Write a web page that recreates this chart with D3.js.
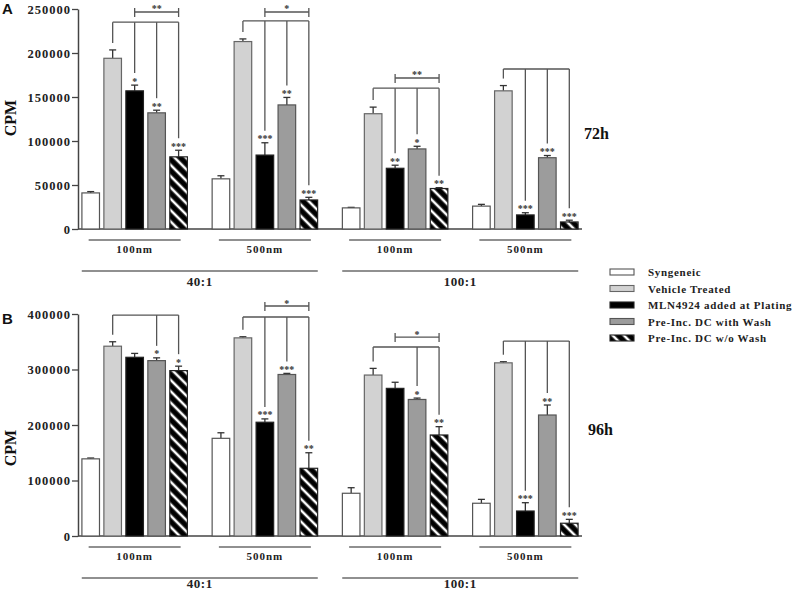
<!DOCTYPE html>
<html>
<head>
<meta charset="utf-8">
<script src="https://cdn.jsdelivr.net/npm/d3@7"></script>
<style>
  html, body { margin: 0; padding: 0; background: #fff; }
  svg { display: block; }
  .serif { font-family: "Liberation Serif", "Times New Roman", serif; font-weight: bold; }
</style>
</head>
<body>
<svg id="chart" width="793" height="593"></svg>
<script>
// ---------------- DATA ----------------
const ratios = ["40:1", "100:1"];
const doses = ["100nm", "500nm"];
const groups = ["40:1|100nm", "40:1|500nm", "100:1|100nm", "100:1|500nm"];
const series = ["Syngeneic", "Vehicle Treated", "MLN4924 added at Plating", "Pre-Inc. DC with Wash", "Pre-Inc. DC w/o Wash"];

const ticksA = [0, 50000, 100000, 150000, 200000, 250000];
const ticksB = [0, 100000, 200000, 300000, 400000];

// Panel A (72h)
const syn72 = [41000, 57000, 24000, 26000];
const syn72Err = [1500, 3500, 600, 2000];
const veh72 = [194000, 213000, 131000, 157000];
const veh72Err = [9500, 3000, 7500, 6000];
const mln72 = [157000, 84000, 69000, 16000];
const mln72Err = [6500, 14000, 3500, 2500];
const wash72 = [132000, 141000, 91000, 81000];
const wash72Err = [3000, 8500, 3000, 2500];
const nowash72 = [82000, 33000, 46000, 8000];
const nowash72Err = [7500, 3000, 1000, 2000];

// Panel B (96h)
const syn96 = [139000, 176000, 77000, 59000];
const syn96Err = [1500, 10000, 10000, 7000];
const veh96 = [342000, 357000, 290000, 312000];
const veh96Err = [8000, 2000, 12000, 2000];
const mln96 = [322000, 205000, 266000, 45000];
const mln96Err = [7000, 6000, 11000, 15000];
const wash96 = [316000, 291000, 246000, 218000];
const wash96Err = [5000, 2000, 2500, 18000];
const nowash96 = [298000, 122000, 182000, 23000];
const nowash96Err = [8000, 28000, 15000, 7000];

// significance brackets: level in CPM units, marks = [series index, label]
const sigA = [
  { g: 0, level: 235000, marks: [[2, "*"], [3, "**"], [4, "***"]] },
  { g: 1, level: 236400, marks: [[2, "***"], [3, "**"], [4, "***"]] },
  { g: 2, level: 160000, marks: [[2, "**"], [3, "*"], [4, "**"]] },
  { g: 3, level: 181800, marks: [[2, "***"], [3, "***"], [4, "***"]] }
];
const upperA = [
  { g: 0, from: 2, to: 4, level: 246600, label: "**" },
  { g: 1, from: 2, to: 4, level: 246600, label: "*" },
  { g: 2, from: 2, to: 4, level: 171600, label: "**" }
];
const sigB = [
  { g: 0, level: 398000, marks: [[3, "*"], [4, "*"]] },
  { g: 1, level: 394600, marks: [[2, "***"], [3, "***"], [4, "**"]] },
  { g: 2, level: 340500, marks: [[3, "*"], [4, "**"]] },
  { g: 3, level: 351300, marks: [[2, "***"], [3, "**"], [4, "***"]] }
];
const upperB = [
  { g: 1, from: 2, to: 4, level: 414400, label: "*" },
  { g: 2, from: 2, to: 4, level: 358500, label: "*" }
];

// ---------------- DRAW ----------------
const svg = d3.select("#chart");
const fills = ["#ffffff", "#d2d2d2", "#000000", "#9c9c9c", "url(#hatch)"];
const strokes = ["#555", "#666", "#222", "#555", "#222"];

const defs = svg.append("defs");
const pat = defs.append("pattern").attr("id", "hatch")
  .attr("patternUnits", "userSpaceOnUse").attr("width", 8).attr("height", 8)
  .attr("patternTransform", "rotate(-45)");
pat.append("rect").attr("width", 8).attr("height", 8).attr("fill", "#000");
pat.append("line").attr("x1", 4).attr("x2", 4).attr("y1", 0).attr("y2", 8)
  .attr("stroke", "#fff").attr("stroke-width", 2.6);

const x0 = d3.scaleBand().domain(groups).range([78, 582]).paddingInner(0.19).paddingOuter(0.03);
const x1 = d3.scaleBand().domain(d3.range(series.length)).range([0, x0.bandwidth()]).paddingInner(0.2).paddingOuter(0);

function panel(cfg) {
  const y = d3.scaleLinear().domain(cfg.domain).range(cfg.range);
  const g = svg.append("g");
  const vals = cfg.values, errs = cfg.errors;

  // axis
  const ax = g.append("g").attr("transform", "translate(78,0)")
    .call(d3.axisLeft(y).tickValues(cfg.ticks).tickSize(6).tickSizeOuter(0).tickPadding(1).tickFormat(d3.format("d")));
  ax.select(".domain").attr("stroke", "#444").attr("stroke-width", 1.5);
  ax.selectAll(".tick line").attr("stroke", "#444").attr("stroke-width", 1.3);
  ax.selectAll(".tick text").attr("class", "serif").attr("font-size", 12.5)
    .attr("letter-spacing", "1px").attr("fill", "#222");
  g.append("line").attr("x1", 78).attr("x2", 582).attr("y1", y(0)).attr("y2", y(0))
    .attr("stroke", "#444").attr("stroke-width", 1.5);

  // bars
  const cx = (gi, si) => x0(groups[gi]) + x1(si) + x1.bandwidth() / 2;
  const errTop = (gi, si) => y(vals[si][gi] + errs[si][gi]);
  series.forEach((s, si) => {
    const bg = g.append("g");
    bg.selectAll("line.err").data(groups).join("line")
      .attr("x1", (d, gi) => cx(gi, si)).attr("x2", (d, gi) => cx(gi, si))
      .attr("y1", (d, gi) => y(vals[si][gi])).attr("y2", (d, gi) => errTop(gi, si))
      .attr("stroke", "#333").attr("stroke-width", 1.3);
    bg.selectAll("line.cap").data(groups).join("line")
      .attr("x1", (d, gi) => cx(gi, si) - 3.5).attr("x2", (d, gi) => cx(gi, si) + 3.5)
      .attr("y1", (d, gi) => errTop(gi, si)).attr("y2", (d, gi) => errTop(gi, si))
      .attr("stroke", "#333").attr("stroke-width", 1.3);
    bg.selectAll("rect").data(groups).join("rect")
      .attr("x", (d, gi) => x0(d) + x1(si)).attr("width", x1.bandwidth())
      .attr("y", (d, gi) => y(vals[si][gi])).attr("height", (d, gi) => y(0) - y(vals[si][gi]))
      .attr("fill", fills[si]).attr("stroke", strokes[si]).attr("stroke-width", 1.2);
  });

  // significance
  const lc = "#555", lw = 1.3;
  cfg.sig.forEach(sg => {
    const gi = sg.g, ly = y(sg.level);
    const last = sg.marks[sg.marks.length - 1][0];
    g.append("line").attr("x1", cx(gi, 1)).attr("x2", cx(gi, last)).attr("y1", ly).attr("y2", ly)
      .attr("stroke", lc).attr("stroke-width", lw);
    g.append("line").attr("x1", cx(gi, 1)).attr("x2", cx(gi, 1)).attr("y1", ly).attr("y2", errTop(gi, 1) - 7)
      .attr("stroke", lc).attr("stroke-width", lw);
    sg.marks.forEach(([si, lab]) => {
      const et = errTop(gi, si);
      g.append("line").attr("x1", cx(gi, si)).attr("x2", cx(gi, si)).attr("y1", ly).attr("y2", et - 12)
        .attr("stroke", lc).attr("stroke-width", lw);
      g.append("text").attr("class", "serif").attr("font-size", 10).attr("text-anchor", "middle")
        .attr("x", cx(gi, si)).attr("y", et - 0.5).attr("fill", "#333").text(lab);
    });
  });
  cfg.upper.forEach(u => {
    const ly = y(u.level), xa = cx(u.g, u.from), xb = cx(u.g, u.to);
    g.append("line").attr("x1", xa).attr("x2", xb).attr("y1", ly).attr("y2", ly).attr("stroke", lc).attr("stroke-width", lw);
    [xa, xb].forEach(xx => g.append("line").attr("x1", xx).attr("x2", xx).attr("y1", ly - 4).attr("y2", ly + 5)
      .attr("stroke", lc).attr("stroke-width", lw));
    g.append("text").attr("class", "serif").attr("font-size", 10).attr("text-anchor", "middle")
      .attr("x", (xa + xb) / 2).attr("y", ly + 0.5).attr("fill", "#333").text(u.label);
  });

  // category labels
  const y0 = y(0);
  groups.forEach((gr, gi) => {
    const c = x0(gr) + x0.bandwidth() / 2;
    g.append("line").attr("x1", c - 46).attr("x2", c + 46).attr("y1", y0 + 11).attr("y2", y0 + 11)
      .attr("stroke", "#222").attr("stroke-width", 1.2);
    g.append("text").attr("class", "serif").attr("font-size", 11).attr("letter-spacing", "1px")
      .attr("text-anchor", "middle").attr("x", c).attr("y", y0 + 24).attr("fill", "#222").text(doses[gi % 2]);
  });
  ratios.forEach((r, ri) => {
    const c = (x0(groups[ri * 2]) + x0(groups[ri * 2 + 1]) + x0.bandwidth()) / 2;
    g.append("line").attr("x1", c - 118).attr("x2", c + 118).attr("y1", y0 + 42).attr("y2", y0 + 42)
      .attr("stroke", "#222").attr("stroke-width", 1.2);
    g.append("text").attr("class", "serif").attr("font-size", 13).attr("letter-spacing", "0.5px")
      .attr("text-anchor", "middle").attr("x", c).attr("y", Math.min(y0 + 57, 588)).attr("fill", "#222").text(r);
  });

  // titles
  g.append("text").attr("font-family", "Liberation Sans, Arial, sans-serif").attr("font-weight", "bold")
    .attr("font-size", 15).attr("x", 2).attr("y", cfg.letterY).attr("fill", "#111").text(cfg.letter);
  g.append("text").attr("class", "serif").attr("font-size", 16).attr("text-anchor", "middle")
    .attr("transform", `translate(16,${cfg.cpmY}) rotate(-90)`).attr("fill", "#111").text("CPM");
  g.append("text").attr("class", "serif").attr("font-size", 16).attr("x", cfg.timeX).attr("y", cfg.timeY)
    .attr("fill", "#111").text(cfg.time);
}

panel({
  domain: [0, 250000], range: [229, 9], ticks: ticksA,
  values: [syn72, veh72, mln72, wash72, nowash72],
  errors: [syn72Err, veh72Err, mln72Err, wash72Err, nowash72Err],
  sig: sigA, upper: upperA, letter: "A", letterY: 14, cpmY: 118, time: "72h", timeX: 584, timeY: 139
});
panel({
  domain: [0, 400000], range: [536, 314], ticks: ticksB,
  values: [syn96, veh96, mln96, wash96, nowash96],
  errors: [syn96Err, veh96Err, mln96Err, wash96Err, nowash96Err],
  sig: sigB, upper: upperB, letter: "B", letterY: 324, cpmY: 448, time: "96h", timeX: 588, timeY: 435
});

// legend
const leg = svg.append("g");
const rowY = d3.scalePoint().domain(series).range([272, 338]);
series.forEach((s, si) => {
  leg.append("rect").attr("x", 610).attr("y", rowY(s) - 3).attr("width", 24).attr("height", 6)
    .attr("fill", fills[si]).attr("stroke", strokes[si]).attr("stroke-width", 1.1);
  leg.append("text").attr("class", "serif").attr("font-size", 11).attr("letter-spacing", "0.7px")
    .attr("x", 648).attr("y", rowY(s) + 4).attr("fill", "#222").text(s);
});
</script>
</body>
</html>
